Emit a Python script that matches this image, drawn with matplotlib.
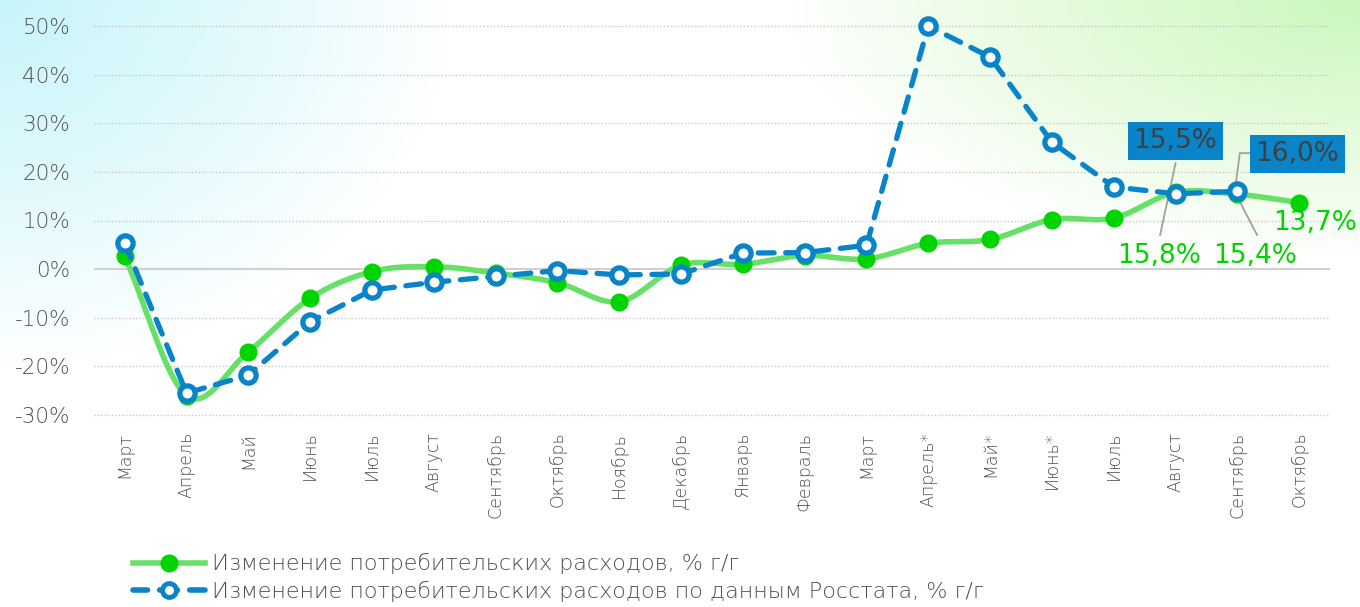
import numpy as np
import matplotlib
matplotlib.use("Agg")
import matplotlib.pyplot as plt
from matplotlib.lines import Line2D
from matplotlib import font_manager

months = ["Март", "Апрель", "Май", "Июнь", "Июль", "Август", "Сентябрь", "Октябрь",
          "Ноябрь", "Декабрь", "Январь", "Февраль", "Март", "Апрель*", "Май*", "Июнь*",
          "Июль", "Август", "Сентябрь", "Октябрь"]
green = [2.6, -26.0, -17.0, -6.0, -0.5, 0.5, -0.8, -2.8, -6.7, 0.8, 1.0, 2.8, 2.1,
         5.3, 6.1, 10.2, 10.5, 15.8, 15.4, 13.7]
blue = [5.3, -25.5, -21.8, -10.8, -4.3, -2.7, -1.5, -0.3, -1.2, -1.0, 3.3, 3.4, 4.9,
        50.0, 43.6, 26.1, 16.9, 15.5, 16.0]
yticks = [-30, -20, -10, 0, 10, 20, 30, 40, 50]

plt.rcParams['font.family'] = ['DejaVu Sans']
light = 'normal'
names = {f.name + '|' + str(f.weight) for f in font_manager.fontManager.ttflist}
if any(nm.startswith('DejaVu Sans|200') or nm.startswith('DejaVu Sans|ultralight') or nm.startswith('DejaVu Sans|extra light') for nm in names):
    light = 200
plt.rcParams['font.weight'] = light

fig = plt.figure(figsize=(13.6, 6.07), dpi=100)

# background gradient
H, W = 200, 400
yy, xx = np.mgrid[0:H, 0:W]
xn = xx / W
yn = yy / H
img = np.ones((H, W, 3))
cyan = np.array([0.78, 0.96, 0.98])
lg = np.array([0.80, 0.97, 0.74])
wc = np.clip(1 - np.sqrt((xn / 0.33) ** 2 + (yn / 0.6) ** 2), 0, 1) ** 0.9
wg = np.clip(1 - np.sqrt(((1 - xn) / 0.42) ** 2 + (yn / 0.42) ** 2), 0, 1) ** 0.9
for k in range(3):
    img[..., k] = img[..., k] * (1 - wc - wg).clip(0, 1) + cyan[k] * wc + lg[k] * wg
bg = fig.add_axes([0, 0, 1, 1])
bg.imshow(img, aspect='auto', extent=[0, 1, 0, 1], origin='upper')
bg.axis('off')

ax = fig.add_axes([0.069, 1 - 415 / 607, 0.909, 389 / 607])
ax.patch.set_alpha(0)
n = len(months)
x = np.arange(n)


def smooth(xs, ys, steps=20):
    xs = np.asarray(xs, float)
    ys = np.asarray(ys, float)
    px = np.concatenate([[2 * xs[0] - xs[1]], xs, [2 * xs[-1] - xs[-2]]])
    py = np.concatenate([[2 * ys[0] - ys[1]], ys, [2 * ys[-1] - ys[-2]]])
    ox, oy = [], []
    for i in range(1, len(px) - 2):
        t = np.linspace(0, 1, steps, endpoint=False)
        for arr, out in ((px, ox), (py, oy)):
            p0, p1, p2, p3 = arr[i - 1], arr[i], arr[i + 1], arr[i + 2]
            out.extend(0.5 * ((2 * p1) + (-p0 + p2) * t + (2 * p0 - 5 * p1 + 4 * p2 - p3) * t ** 2
                              + (-p0 + 3 * p1 - 3 * p2 + p3) * t ** 3))
    ox.append(xs[-1]); oy.append(ys[-1])
    return np.array(ox), np.array(oy)

gcol_line = '#66e066'
gcol = '#00d400'
bcol = '#0a84c8'
tcol = '#505050'

sx, sy = smooth(x, green)
ax.plot(sx, sy, color=gcol_line, lw=4, zorder=3, solid_capstyle='round', clip_on=False)
ax.plot(x, green, 'o', color=gcol, ms=12, zorder=4, clip_on=False)

xb = np.arange(len(blue))
ax.plot(xb, blue, color=bcol, lw=3.8, ls=(0, (3.0, 2.2)), zorder=5, dash_capstyle='round', clip_on=False)
ax.plot(xb, blue, 'o', ms=11, mfc='white', mec=bcol, mew=3.8, zorder=6, clip_on=False)

ax.set_xlim(-0.5, n - 0.5)
ax.set_ylim(-30, 50)
ax.set_yticks(yticks)
ax.set_yticklabels([f"{v}%" for v in yticks], color=tcol, fontsize=15.5)
ax.set_xticks(x)
ax.set_xticklabels(months, rotation=90, color=tcol, fontsize=12.5)
ax.tick_params(length=0)
ax.tick_params(axis='y', pad=17)
ax.tick_params(axis='x', pad=12)
for v in yticks:
    if v == 0:
        ax.axhline(0, color='#d0d0d0', lw=1.5, zorder=1)
    else:
        ax.axhline(v, color='#c8c8c8', lw=1, ls=(0, (1, 1.5)), zorder=1, clip_on=False)
for s in ax.spines.values():
    s.set_visible(False)

# data labels
lead = dict(color='#a0a0a0', lw=1.3, clip_on=False, zorder=2)
box = dict(boxstyle='square,pad=0.22', fc='#0a84c8', ec='none')
lab = dict(ha='center', va='center', fontsize=19, weight='normal', zorder=7)
ax.plot([17.0, 16.75], [21.8, 7.0], **lead)
ax.text(17.0, 26.3, "15,5%", color='#404040', bbox=box, **lab)
ax.plot([18.24, 18.04, 17.96], [23.86, 23.86, 16.2], **lead)
ax.text(18.97, 23.65, "16,0%", color='#404040', bbox=box, **lab)
ax.plot([17.96, 18.32], [15.8, 7.0], **lead)
ax.text(16.73, 2.7, "15,8%", color=gcol, **lab)
ax.text(18.29, 2.7, "15,4%", color=gcol, **lab)
ax.text(19.26, 9.5, "13,7%", color=gcol, **lab)

h1 = Line2D([], [], color=gcol_line, lw=4, marker='o', ms=12, mfc=gcol, mec=gcol)
h2 = Line2D([], [], color=bcol, lw=4, ls=(0.6, (3.2, 2.2)), dash_capstyle='round',
            marker='o', ms=10, mfc='white', mec=bcol, mew=3.5)
fig.legend([h1, h2], ["Изменение потребительских расходов, % г/г",
                      "Изменение потребительских расходов по данным Росстата, % г/г"],
           loc='lower left', bbox_to_anchor=(133 / 1360, 0.008), frameon=False, fontsize=16,
           labelcolor=tcol, handlelength=3.25, handletextpad=0.3, labelspacing=0.3,
           borderpad=0, borderaxespad=0)

fig.savefig("out.png", dpi=100)
